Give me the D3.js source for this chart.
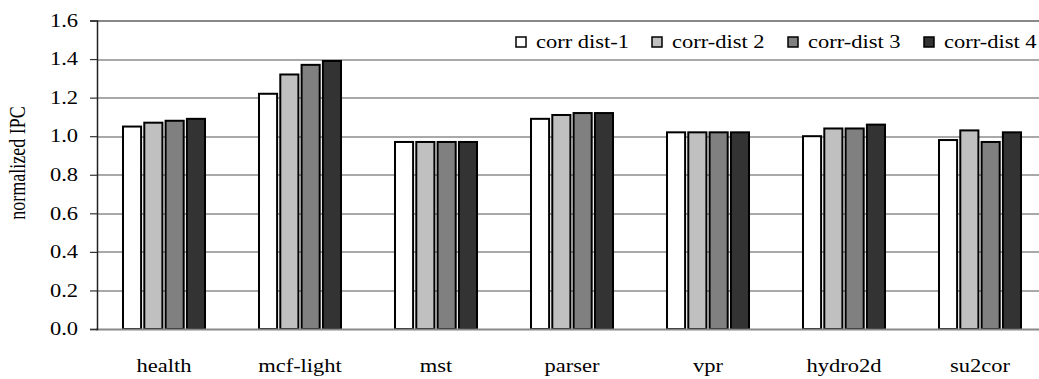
<!DOCTYPE html>
<html>
<head>
<meta charset="utf-8">
<script src="https://cdn.jsdelivr.net/npm/d3@7"></script>
</head>
<body style="margin:0; background:#fff">
<div id="canvas"></div>
<script>
const categories = ["health", "mcf-light", "mst", "parser", "vpr", "hydro2d", "su2cor"];
const seriesNames = ["corr dist-1", "corr-dist 2", "corr-dist 3", "corr-dist 4"];
const dist1 = [1.05, 1.22, 0.97, 1.09, 1.02, 1.00, 0.98];
const dist2 = [1.07, 1.32, 0.97, 1.11, 1.02, 1.04, 1.03];
const dist3 = [1.08, 1.37, 0.97, 1.12, 1.02, 1.04, 0.97];
const dist4 = [1.09, 1.39, 0.97, 1.12, 1.02, 1.06, 1.02];
const yTicks = [0, 0.2, 0.4, 0.6, 0.8, 1.0, 1.2, 1.4, 1.6];
const colors = ["#ffffff", "#c0c0c0", "#808080", "#333333"];

const series = [dist1, dist2, dist3, dist4];
const data = categories.map((c, i) => ({
  name: c,
  values: series.map((s, j) => ({ key: seriesNames[j], value: s[i] }))
}));

const width = 1039;
const height = 379;
const margin = { top: 20.5, left: 96, bottom: 50, right: -9 };
const iwidth = width - margin.left - margin.right;
const iheight = height - margin.top - margin.bottom;
const font = "Liberation Serif";
const stretch = 1.25; // text in the original is drawn a bit wide

const svg = d3.select("#canvas").append("svg")
  .attr("width", width)
  .attr("height", height);

const g1 = svg.append("g").attr("transform", `translate(${margin.left},${margin.top})`);

const y = d3.scaleLinear().domain([0, 1.6]).range([iheight, 0]);

const x = d3.scaleBand()
  .domain(categories)
  .range([0, iwidth])
  .paddingInner(0.397)
  .paddingOuter(0.1985);

const x1 = d3.scaleBand()
  .domain(seriesNames)
  .range([0, x.bandwidth()])
  .paddingInner(0.15);

// grid lines
g1.append("g")
  .selectAll("line")
  .data(yTicks.filter(d => d > 0))
  .enter().append("line")
  .attr("x1", 1)
  .attr("x2", iwidth)
  .attr("y1", d => Math.round(y(d)) + 0.5)
  .attr("y2", d => Math.round(y(d)) + 0.5)
  .attr("stroke", d => d === 1.6 ? "#888" : "#555")
  .attr("stroke-width", d => d === 1.6 ? 2 : 1.2);

// bars
const groups = g1.selectAll(".grp").data(data)
  .enter().append("g")
  .attr("class", "grp")
  .attr("transform", d => `translate(${x(d.name)},0)`);

groups.selectAll("rect").data(d => d.values)
  .enter().append("rect")
  .attr("x", d => x1(d.key))
  .attr("y", d => y(d.value))
  .attr("width", x1.bandwidth())
  .attr("height", d => iheight - y(d.value))
  .attr("fill", (d, i) => colors[i])
  .attr("stroke", "#000")
  .attr("stroke-width", 2);

// bottom axis line
g1.append("line")
  .attr("x1", 0).attr("x2", iwidth)
  .attr("y1", iheight + 0.5).attr("y2", iheight + 0.5)
  .attr("stroke", "#888")
  .attr("stroke-width", 2);

// y axis
const yAxis = g1.append("g")
  .attr("transform", "translate(1,0)")
  .call(d3.axisLeft(y).tickValues(yTicks).tickFormat(d3.format(".1f")).tickSizeOuter(0).tickSize(7).tickPadding(12));
yAxis.select(".domain").attr("stroke", "#222").attr("stroke-width", 1.5);
yAxis.selectAll(".tick line").attr("stroke", "#333").attr("stroke-width", 1.2);
yAxis.selectAll(".tick text")
  .attr("font-family", font)
  .attr("font-size", 18)
  .attr("fill", "#000")
  .attr("x", 0)
  .attr("transform", `translate(-19,0) scale(${stretch},1)`);

// x labels
g1.append("g")
  .selectAll("text")
  .data(categories)
  .enter().append("text")
  .attr("transform", d => `translate(${x(d) + x.bandwidth() / 2},${iheight + 43}) scale(${stretch},1)`)
  .attr("text-anchor", "middle")
  .attr("font-family", font)
  .attr("font-size", 18)
  .text(d => d);

// y title
svg.append("text")
  .attr("transform", `translate(25,163) rotate(-90) scale(1,${stretch})`)
  .attr("text-anchor", "middle")
  .attr("font-family", font)
  .attr("font-size", 18)
  .text("normalized IPC");

// legend
const legend = svg.append("g").attr("transform", "translate(516,37)");
const items = legend.selectAll("g").data(seriesNames)
  .enter().append("g")
  .attr("transform", (d, i) => `translate(${i * 136},0)`);
items.append("rect")
  .attr("width", 10).attr("height", 10)
  .attr("fill", (d, i) => colors[i])
  .attr("stroke", "#000")
  .attr("stroke-width", 1.5);
items.append("text")
  .attr("transform", `translate(20,11) scale(${stretch},1)`)
  .attr("font-family", font)
  .attr("font-size", 18)
  .text(d => d);
</script>
</body>
</html>
